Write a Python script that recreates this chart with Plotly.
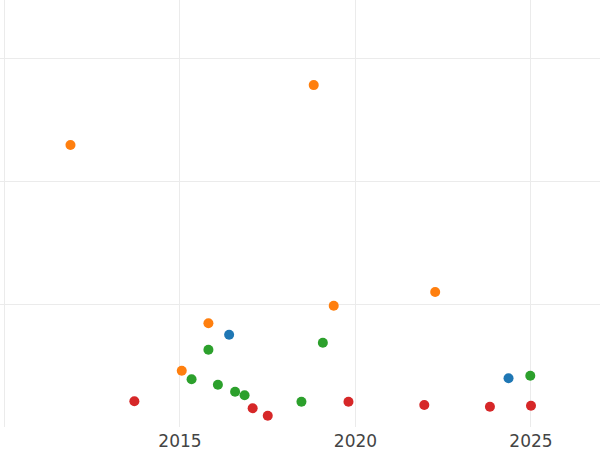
import plotly.graph_objects as go

# Series data (x = year, y = value)
blue_x = [2016.40, 2024.36]
blue_y = [7.50, 3.96]

orange_x = [2011.88, 2018.81, 2019.38, 2022.27, 2015.81, 2015.05]
orange_y = [22.93, 27.80, 9.86, 10.98, 8.43, 4.58]

green_x = [2015.81, 2019.07, 2015.33, 2016.08, 2016.57, 2016.84, 2018.46, 2024.98]
green_y = [6.28, 6.85, 3.88, 3.44, 2.87, 2.58, 2.06, 4.17]

red_x = [2013.70, 2017.07, 2017.50, 2019.80, 2021.96, 2023.83, 2025.00]
red_y = [2.09, 1.52, 0.92, 2.06, 1.79, 1.65, 1.73]

x_tickvals = [2010, 2015, 2020, 2025]
x_ticktext = ["", "2015", "2020", "2025"]
y_tickvals = [10, 20, 30]

series = [
    (blue_x, blue_y, "#1f77b4"),
    (orange_x, orange_y, "#ff7f0e"),
    (green_x, green_y, "#2ca02c"),
    (red_x, red_y, "#d62728"),
]

fig = go.Figure()
for xs, ys, c in series:
    fig.add_trace(go.Scatter(x=xs, y=ys, mode="markers",
                             marker=dict(color=c, size=10, line=dict(width=0)),
                             showlegend=False))

fig.update_layout(
    width=600, height=450,
    margin=dict(l=0, r=0, t=0, b=23, pad=0),
    paper_bgcolor="white", plot_bgcolor="white",
    font=dict(family="DejaVu Sans", size=17, color="#444"),
    xaxis=dict(range=[2009.872, 2026.966], tickvals=x_tickvals, ticktext=x_ticktext,
               showgrid=True, gridcolor="#ebebeb", gridwidth=1,
               zeroline=False, showline=False, ticks="", automargin=False,
               ticklabelstandoff=2),
    yaxis=dict(range=[0, 34.72], tickvals=y_tickvals, showticklabels=False,
               showgrid=True, gridcolor="#ebebeb", gridwidth=1,
               zeroline=False, showline=False, ticks="", automargin=False),
)

fig.write_html("out.html", config={"displayModeBar": False},
               post_script="document.body.style.margin='0';")
